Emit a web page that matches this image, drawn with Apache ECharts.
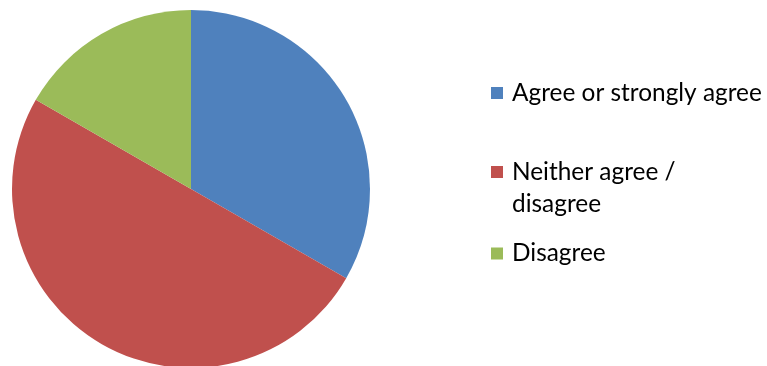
<!DOCTYPE html>
<html>
<head>
<meta charset="utf-8">
<script src="https://cdn.jsdelivr.net/npm/echarts@6/dist/echarts.min.js"></script>
<style>html,body{margin:0;padding:0;background:#fff;}#c{width:767px;height:366px;}</style>
</head>
<body>
<div id="c"></div>
<script>
const categories = ['Agree or strongly agree', 'Neither agree / disagree', 'Disagree'];
// legend text lines for each category (second line drawn by an extra legend row)
const legendLines = [['Agree or strongly agree'], ['Neither agree /', 'disagree'], ['Disagree']];
const values = [33.3, 50.0, 16.7];
const colors = ['#4F81BD', '#C0504D', '#9BBB59'];

const FONT = 'Lato';
const FS = 24.4;
const LH = 32;
const iconCenters = [93, 172, 253.5];
const ICON = 12;

const chart = echarts.init(document.getElementById('c'), null, {renderer: 'canvas'});
const legends = [];
categories.forEach((name, i) => {
  legendLines[i].forEach((line, k) => {
    legends.push({
      data: [name],
      orient: 'vertical',
      left: 491,
      top: iconCenters[i] + k * LH - LH / 2,
      padding: 0,
      itemWidth: ICON,
      itemHeight: ICON,
      itemGap: 0,
      icon: 'rect',
      itemStyle: k === 0 ? {} : {opacity: 0},
      selectedMode: false,
      formatter: () => '{t|' + line + '}',
      textStyle: {
        fontFamily: FONT, fontSize: FS, lineHeight: LH, color: '#000',
        rich: {t: {fontFamily: FONT, fontSize: FS, lineHeight: LH, color: '#000', padding: [0, 0, 0, 4]}}
      }
    });
  });
});

chart.setOption({
  animation: false,
  color: colors,
  legend: legends,
  series: [{
    type: 'pie',
    center: [191, 189],
    radius: 179,
    startAngle: 90,
    clockwise: true,
    label: {show: false},
    labelLine: {show: false},
    emphasis: {disabled: true},
    itemStyle: {borderWidth: 0},
    data: categories.map((n, i) => ({name: n, value: values[i]}))
  }]
});
</script>
</body>
</html>
